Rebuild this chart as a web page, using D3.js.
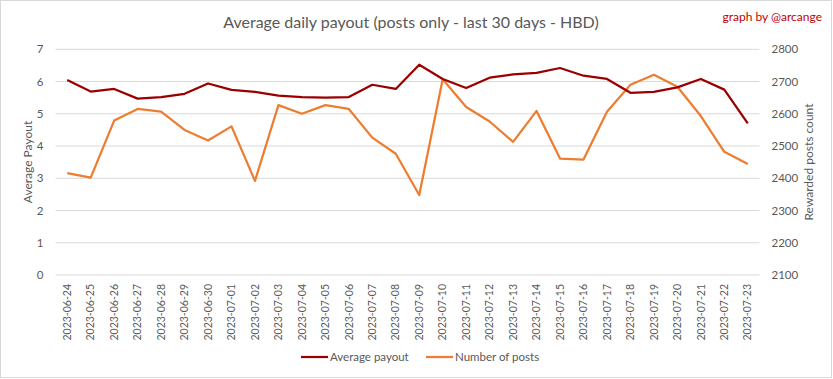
<!DOCTYPE html>
<html><head><meta charset="utf-8">
<script src="https://cdn.jsdelivr.net/npm/d3@7"></script>
<style>body{margin:0;background:#fff;} svg{display:block;font-family:Lato, "Open Sans", sans-serif;}</style>
</head><body>
<svg id="c" width="833" height="379"></svg>
<script>
const dates = ["2023-06-24","2023-06-25","2023-06-26","2023-06-27","2023-06-28","2023-06-29","2023-06-30","2023-07-01","2023-07-02","2023-07-03","2023-07-04","2023-07-05","2023-07-06","2023-07-07","2023-07-08","2023-07-09","2023-07-10","2023-07-11","2023-07-12","2023-07-13","2023-07-14","2023-07-15","2023-07-16","2023-07-17","2023-07-18","2023-07-19","2023-07-20","2023-07-21","2023-07-22","2023-07-23"];
const avgPayout = [6.05,5.69,5.77,5.47,5.52,5.62,5.94,5.74,5.68,5.56,5.52,5.50,5.52,5.90,5.77,6.52,6.08,5.80,6.12,6.22,6.27,6.42,6.18,6.08,5.65,5.68,5.82,6.08,5.75,4.70];
const postCount = [2416,2402,2579,2615,2607,2550,2517,2561,2392,2627,2600,2627,2615,2526,2476,2348,2707,2621,2576,2513,2609,2461,2458,2606,2690,2721,2684,2593,2482,2444];
const leftTicks = [0,1,2,3,4,5,6,7];
const rightTicks = [2100,2200,2300,2400,2500,2600,2700,2800];

const svg = d3.select("#c");
const W = 833, H = 379;
const L = 55.5, R = 759.5, T = 49.3, B = 275;
const grey = "#595959";

svg.append("rect").attr("x",0.5).attr("y",0.5).attr("width",W-2).attr("height",H-2)
  .attr("fill","#fff").attr("stroke","#d9d9d9");

const x = d3.scaleBand().domain(dates).range([L,R]);
const yL = d3.scaleLinear().domain([0,7]).range([B,T]);
const yR = d3.scaleLinear().domain([2100,2800]).range([B,T]);

// grid
svg.append("g").selectAll("line").data(leftTicks).join("line")
  .attr("x1",L).attr("x2",R).attr("y1",d=>yL(d)).attr("y2",d=>yL(d))
  .attr("stroke","#d9d9d9").attr("stroke-width",1);

// left axis
const gl = svg.append("g").attr("transform",`translate(${L},0)`)
  .call(d3.axisLeft(yL).tickValues(leftTicks).tickFormat(d3.format("d")).tickSize(0).tickPadding(12));
gl.select(".domain").remove();
gl.selectAll("text").attr("fill",grey).style("font-size","11.5px").style("font-family","Lato, sans-serif");

const gr = svg.append("g").attr("transform",`translate(${R},0)`)
  .call(d3.axisRight(yR).tickValues(rightTicks).tickFormat(d3.format("d")).tickSize(0).tickPadding(12));
gr.select(".domain").remove();
gr.selectAll("text").attr("fill",grey).style("font-size","11.5px").style("font-family","Lato, sans-serif");

// x axis
const gx = svg.append("g").attr("transform",`translate(0,${B})`)
  .call(d3.axisBottom(x).tickSize(0).tickPadding(0));
gx.select(".domain").remove();
gx.selectAll("text").attr("fill",grey).style("font-size","10.5px").style("font-family","Lato, sans-serif")
  .attr("text-anchor","end").attr("dy","0.35em")
  .attr("transform","translate(0,9) rotate(-90)").attr("x",0).attr("y",0);

// lines
const cx = d=>x(d)+x.bandwidth()/2;
svg.append("path").datum(postCount.map((v,i)=>[dates[i],v]))
  .attr("fill","none").attr("stroke","#ED7D31").attr("stroke-width",2.25).attr("stroke-linejoin","round")
  .attr("d", d3.line().x(d=>cx(d[0])).y(d=>yR(d[1])));
svg.append("path").datum(avgPayout.map((v,i)=>[dates[i],v]))
  .attr("fill","none").attr("stroke","#9A0000").attr("stroke-width",2.25).attr("stroke-linejoin","round")
  .attr("d", d3.line().x(d=>cx(d[0])).y(d=>yL(d[1])));

// titles
svg.append("text").attr("x",411).attr("y",28).attr("text-anchor","middle")
  .attr("fill",grey).style("font-size","16px").text("Average daily payout (posts only - last 30 days - HBD)");
svg.append("text").attr("x",822).attr("y",21).attr("text-anchor","end")
  .attr("fill","#C00000").style("font-size","12px").text("graph by @arcange");
svg.append("text").attr("transform","translate(32,162) rotate(-90)").attr("text-anchor","middle")
  .attr("fill",grey).style("font-size","12px").text("Average Payout");
svg.append("text").attr("transform","translate(813,162) rotate(-90)").attr("text-anchor","middle")
  .attr("fill",grey).style("font-size","12px").text("Rewarded posts count");

// legend
const leg = [["Average payout","#9A0000",301],["Number of posts","#ED7D31",426]];
leg.forEach(([t,c,lx])=>{
  svg.append("line").attr("x1",lx).attr("x2",lx+27).attr("y1",357).attr("y2",357)
    .attr("stroke",c).attr("stroke-width",2.25);
  svg.append("text").attr("x",lx+29).attr("y",361).attr("fill",grey).style("font-size","11.5px").text(t);
});
</script>
</body></html>
